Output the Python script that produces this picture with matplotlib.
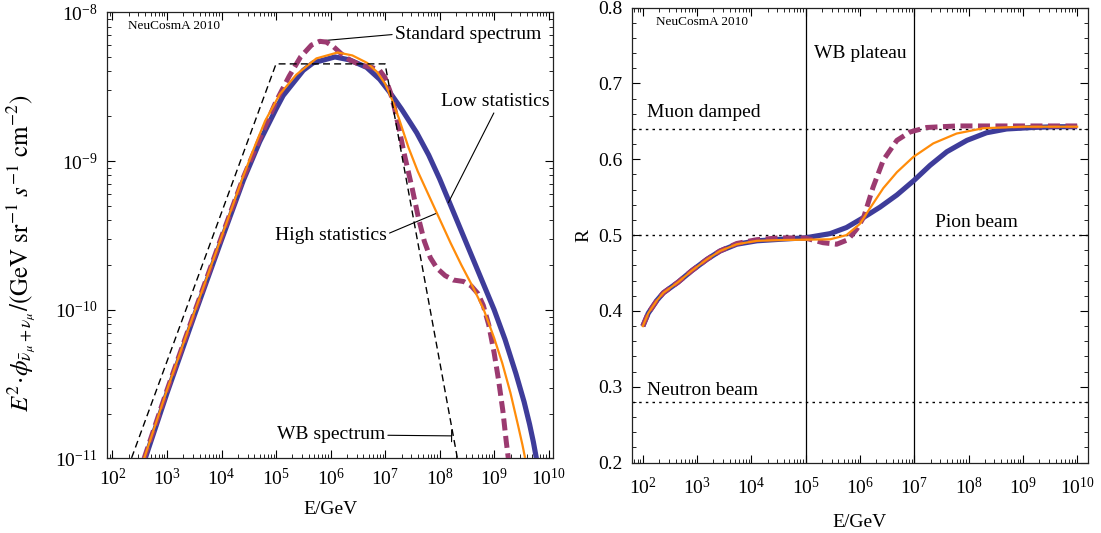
import numpy as np
import matplotlib
matplotlib.use("Agg")
import matplotlib.pyplot as plt
from matplotlib.ticker import FixedLocator, NullFormatter, LogFormatterMathtext, MultipleLocator, FormatStrFormatter

plt.rcParams['font.family'] = ['Liberation Serif', 'DejaVu Serif']
plt.rcParams['mathtext.fontset'] = 'stix'

# --- left panel: E^2 flux (log10 E, log10 flux) ---
low_logE = [2.60, 3.00, 3.50, 4.00, 4.40, 4.70, 5.00, 5.13, 5.50, 5.68, 6.08, 6.35,
            6.66, 6.90, 7.09, 7.30, 7.58, 7.80, 8.00, 8.25, 8.50, 8.75, 9.00, 9.20,
            9.40, 9.55, 9.65, 9.72, 9.78, 9.82]
low_logF = [-11.00, -10.56, -10.04, -9.53, -9.13, -8.87, -8.65, -8.56, -8.39, -8.34,
            -8.30, -8.32, -8.37, -8.45, -8.54, -8.65, -8.81, -8.96, -9.12, -9.34,
            -9.56, -9.78, -10.00, -10.20, -10.43, -10.62, -10.77, -10.89, -11.01, -11.10]

high_logE = [2.58, 3.00, 3.50, 4.00, 4.40, 4.60, 4.80, 5.07, 5.37, 5.74, 6.13, 6.40,
             6.67, 6.85, 7.00, 7.12, 7.25, 7.43, 7.60, 7.80, 8.00, 8.20, 8.40, 8.60,
             8.80, 9.00, 9.15, 9.30, 9.44, 9.52, 9.58, 9.62]
high_logF = [-11.00, -10.54, -10.02, -9.51, -9.10, -8.91, -8.73, -8.55, -8.42, -8.31,
             -8.27, -8.29, -8.34, -8.40, -8.48, -8.58, -8.71, -8.91, -9.07, -9.23,
             -9.39, -9.55, -9.70, -9.84, -9.99, -10.19, -10.36, -10.56, -10.78, -10.91,
             -11.02, -11.10]

std_logE = [2.58, 3.00, 3.50, 4.00, 4.40, 4.70, 5.00, 5.24, 5.45, 5.65, 5.80, 5.92,
            6.05, 6.20, 6.35, 6.55, 6.75, 6.90, 7.00, 7.09, 7.17, 7.26, 7.35, 7.50,
            7.61, 7.72, 7.83, 7.95, 8.10, 8.25, 8.44, 8.58, 8.70, 8.80, 8.90, 9.00,
            9.08, 9.16, 9.22, 9.26, 9.29]
std_logF = [-11.00, -10.54, -10.02, -9.51, -9.11, -8.85, -8.60, -8.43, -8.30, -8.22,
            -8.195, -8.20, -8.23, -8.28, -8.32, -8.355, -8.37, -8.39, -8.44, -8.53,
            -8.64, -8.79, -8.95, -9.19, -9.38, -9.54, -9.65, -9.72, -9.77, -9.80,
            -9.81, -9.84, -9.89, -9.97, -10.10, -10.29, -10.47, -10.68, -10.88, -11.00,
            -11.10]

wb_E = [1e2, 1e5, 1e7, 1e9]
wb_F = [4.5e-12, 4.5e-9, 4.5e-9, 4.5e-13]

# --- right panel: flavor ratio R ---
low_R_logE = [2.00, 2.10, 2.26, 2.38, 2.65, 2.90, 3.18, 3.42, 3.73, 4.10, 4.53, 5.00,
              5.45, 5.75, 6.06, 6.37, 6.68, 7.00, 7.29, 7.60, 7.97, 8.33, 8.70, 9.19,
              9.60, 10.00]
low_R = [0.380, 0.397, 0.414, 0.424, 0.438, 0.453, 0.468, 0.479, 0.488, 0.4925, 0.4945,
         0.4965, 0.502, 0.510, 0.523, 0.537, 0.553, 0.5725, 0.592, 0.610, 0.625, 0.635,
         0.640, 0.642, 0.643, 0.643]

high_R_logE = [2.00, 2.10, 2.26, 2.38, 2.65, 2.90, 3.18, 3.42, 3.73, 4.10, 4.53, 5.00,
               5.45, 5.75, 6.00, 6.18, 6.43, 6.68, 6.98, 7.35, 7.78, 8.27, 9.00, 10.00]
high_R = [0.380, 0.397, 0.414, 0.424, 0.438, 0.453, 0.468, 0.479, 0.488, 0.4925, 0.4935,
          0.4940, 0.4945, 0.500, 0.515, 0.535, 0.562, 0.583, 0.603, 0.621, 0.634, 0.641,
          0.643, 0.643]

std_R_logE = [2.00, 2.10, 2.26, 2.38, 2.65, 2.90, 3.18, 3.42, 3.73, 4.10, 4.53, 5.00,
              5.32, 5.57, 5.78, 5.94, 6.07, 6.24, 6.43, 6.68, 6.92, 7.23, 7.78, 8.50,
              10.00]
std_R = [0.380, 0.397, 0.414, 0.424, 0.438, 0.453, 0.468, 0.479, 0.489, 0.494, 0.4965,
         0.4960, 0.490, 0.488, 0.494, 0.508, 0.524, 0.563, 0.599, 0.625, 0.636, 0.642,
         0.644, 0.644, 0.644]

ref_levels = [0.64, 0.50, 0.28]
plateau_edges = [1e5, 1e7]

BLUE = '#3e3c9a'
ORANGE = '#ff8c0a'
PURPLE = '#9b3a70'

fig = plt.figure(figsize=(11.01, 5.33), dpi=100)
ax1 = fig.add_axes([0.0972, 0.1398, 0.4051, 0.8371])
ax2 = fig.add_axes([0.5740, 0.1321, 0.4142, 0.8535])

decades = 10.0 ** np.arange(2, 11)
minors_x = [m * d for d in 10.0 ** np.arange(1, 11) for m in range(2, 10)]


def style_log_x(ax, pad):
    ax.set_xscale('log')
    ax.xaxis.set_major_locator(FixedLocator(decades))
    ax.xaxis.set_minor_locator(FixedLocator(minors_x))
    ax.xaxis.set_minor_formatter(NullFormatter())
    ax.xaxis.set_major_formatter(LogFormatterMathtext())
    ax.tick_params(which='both', direction='in', top=True, right=True, labelsize=14)
    ax.tick_params(which='major', length=6, width=0.8)
    ax.tick_params(which='minor', length=3, width=0.6)
    ax.tick_params(axis='x', pad=pad)
    ax.tick_params(axis='y', pad=7)
    for s in ax.spines.values():
        s.set_linewidth(0.9)
        s.set_color('#222222')


# left panel
ax1.plot(10 ** np.array(low_logE), 10 ** np.array(low_logF), color=BLUE, lw=3.7,
         solid_capstyle='butt', solid_joinstyle='round', zorder=3)
ax1.plot(10 ** np.array(std_logE), 10 ** np.array(std_logF), color=PURPLE, lw=3.6,
         ls=(0, (2.4, 1.1)), dash_capstyle='butt', zorder=4)
ax1.plot(10 ** np.array(high_logE), 10 ** np.array(high_logF), color=ORANGE, lw=1.6, zorder=5)
ax1.plot(wb_E, wb_F, color='black', lw=1.0, ls=(0, (5, 3)), zorder=6)

style_log_x(ax1, 7)
ax1.set_yscale('log')
ax1.yaxis.set_major_locator(FixedLocator([1e-11, 1e-10, 1e-9, 1e-8]))
ax1.yaxis.set_minor_locator(FixedLocator([m * d for d in [1e-11, 1e-10, 1e-9] for m in range(2, 10)]))
ax1.yaxis.set_minor_formatter(NullFormatter())
ax1.yaxis.set_major_formatter(LogFormatterMathtext())
ax1.set_xlim(10 ** 1.90, 10 ** 10.08)
ax1.set_ylim(1e-11, 1e-8)
ax1.set_xlabel('E/GeV', fontsize=14, labelpad=8)
ax1.set_ylabel(r'$E^2\!\cdot\!\phi_{\bar{\nu}_\mu+\nu_\mu}/(\mathrm{GeV\ sr^{-1}}\ s^{-1}\ \mathrm{cm^{-2}})$',
               fontsize=18)
ax1.yaxis.set_label_coords(-0.155, 0.46)

ax1.text(10 ** 2.29, 10 ** -8.092, 'NeuCosmA 2010', fontsize=9.5, ha='left', va='center')
line = dict(arrowstyle='-', color='black', lw=0.8, shrinkA=0, shrinkB=0)
ax1.annotate('Standard spectrum', xy=(10 ** 5.88, 10 ** -8.19), xytext=(10 ** 7.18, 10 ** -8.148),
             fontsize=14, ha='left', va='center', arrowprops=dict(line, relpos=(0, 0.5)))
ax1.annotate('Low statistics', xy=(10 ** 8.16, 10 ** -9.28), xytext=(10 ** 8.02, 10 ** -8.601),
             fontsize=14, ha='left', va='center', arrowprops=dict(line, relpos=(0.51, 0.1)))
ax1.annotate('High statistics', xy=(10 ** 7.95, 10 ** -9.35), xytext=(10 ** 7.03, 10 ** -9.498),
             fontsize=14, ha='right', va='center', arrowprops=dict(line, relpos=(1, 0.55)))
ax1.annotate('WB spectrum', xy=(10 ** 8.22, 10 ** -10.848), xytext=(10 ** 7.0, 10 ** -10.838),
             fontsize=14, ha='right', va='center',
             arrowprops=dict(arrowstyle='-[, widthB=0.3, lengthB=0', color='black', lw=0.8,
                             shrinkA=0, shrinkB=0, relpos=(1, 0.45)))

# right panel
for lvl in ref_levels:
    ax2.axhline(lvl, color='black', lw=1.0, ls=(0, (1.8, 3.0)), zorder=2)
for e in plateau_edges:
    ax2.axvline(e, color='black', lw=0.9, zorder=2)

ax2.plot(10 ** np.array(low_R_logE), low_R, color=BLUE, lw=3.7, solid_capstyle='butt',
         solid_joinstyle='round', zorder=3)
ax2.plot(10 ** np.array(std_R_logE), std_R, color=PURPLE, lw=3.6, ls=(0, (2.4, 1.1)),
         dash_capstyle='butt', zorder=4)
ax2.plot(10 ** np.array(high_R_logE), high_R, color=ORANGE, lw=1.6, zorder=5)

style_log_x(ax2, 10)
ax2.set_xlim(10 ** 1.80, 10 ** 10.20)
ax2.set_ylim(0.2, 0.8)
ax2.yaxis.set_major_locator(MultipleLocator(0.1))
ax2.yaxis.set_minor_locator(MultipleLocator(0.02))
ax2.yaxis.set_major_formatter(FormatStrFormatter('%.1f'))
ax2.set_xlabel('E/GeV', fontsize=14, labelpad=12)
ax2.set_ylabel('R', fontsize=14, labelpad=4)

ax2.text(10 ** 2.25, 0.781, 'NeuCosmA 2010', fontsize=9.5, ha='left', va='center')
ax2.text(10 ** 6.0, 0.740, 'WB plateau', fontsize=14, ha='center', va='center')
ax2.text(10 ** 2.07, 0.662, 'Muon damped', fontsize=14, ha='left', va='center')
ax2.text(10 ** 7.38, 0.517, 'Pion beam', fontsize=14, ha='left', va='center')
ax2.text(10 ** 2.08, 0.295, 'Neutron beam', fontsize=14, ha='left', va='center')

fig.savefig('out.png', dpi=100)
